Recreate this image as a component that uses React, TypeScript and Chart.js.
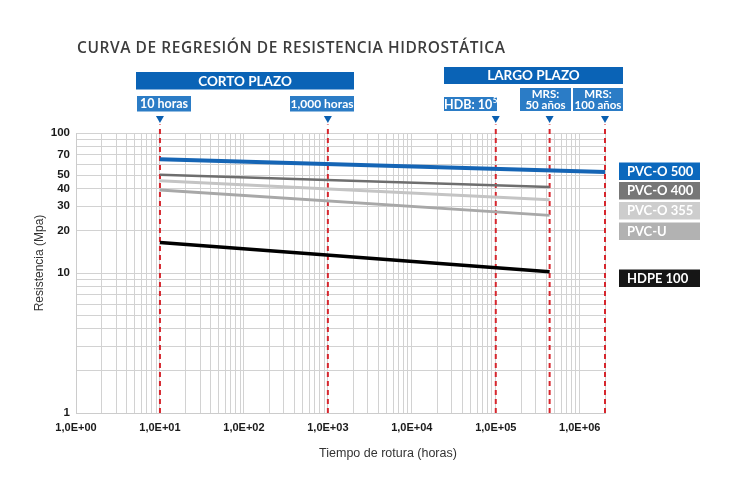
import React, { useEffect, useRef } from 'react';
import { Chart, registerables } from 'chart.js';
Chart.register(...registerables);

// ---- data ----
const seriesNames = ['PVC-O 500', 'PVC-O 400', 'PVC-O 355', 'PVC-U', 'HDPE 100'];
const startHours = [10, 10, 10, 10, 10];
const endHours = [2000000, 438000, 438000, 438000, 438000];
const startMPa = [65, 50.4, 45.6, 39.2, 16.5];
const endMPa = [52.7, 41.1, 33.4, 25.8, 10.2];
const seriesColors = ['#1565b5', '#6e6e6e', '#c4c4c4', '#a8a8a8', '#000000'];
const seriesWidths = [4, 2.5, 3, 3, 3.5];
const legendColors = ['#0b68bd', '#777777', '#cdcdcd', '#b2b2b2', '#161616'];

const markerHours = [10, 1000, 100000, 438000, 2000000];
const markerTopMPa = 115;
const yLabelValues = [1, 10, 20, 30, 40, 50, 70, 100];
const xMin = 1;
const xMax = 2000000;
const yMin = 1;
const yMax = 100;

const TITLE = 'CURVA DE REGRESIÓN DE RESISTENCIA HIDROSTÁTICA';
const X_TITLE = 'Tiempo de rotura (horas)';
const Y_TITLE = 'Resistencia (Mpa)';

function minorTicks(min: number, max: number) {
  const out: { value: number }[] = [];
  for (let e = Math.round(Math.log10(min)); Math.pow(10, e) <= max; e++) {
    for (let m = 1; m <= 9; m++) {
      const v = m * Math.pow(10, e);
      if (v >= min - 1e-9 && v <= max * (1 + 1e-9)) out.push({ value: v });
    }
  }
  return out;
}

function isPow10(v: number) {
  const l = Math.log10(v);
  return Math.abs(l - Math.round(l)) < 1e-9;
}

const BOX_FONT = 'Lato, "Open Sans", sans-serif';

function drawSpaced(ctx: CanvasRenderingContext2D, text: string, x: number, y: number, target: number) {
  const chars = Array.from(text);
  const widths = chars.map((c) => ctx.measureText(c).width);
  const total = widths.reduce((a, b) => a + b, 0);
  const gap = (target - total) / (chars.length - 1);
  let cx = x;
  chars.forEach((c, i) => {
    ctx.fillText(c, cx, y);
    cx += widths[i] + gap;
  });
}

const overlayPlugin = {
  id: 'overlay',
  afterDraw(chart: any) {
    const ctx: CanvasRenderingContext2D = chart.ctx;
    const xs = chart.scales.x;
    ctx.save();

    // Title
    ctx.fillStyle = '#3d3d3d';
    ctx.font = `600 15.5px "Open Sans", sans-serif`;
    ctx.textAlign = 'left';
    ctx.textBaseline = 'alphabetic';
    drawSpaced(ctx, TITLE, 77, 53, 428);

    const box = (x: number, y: number, w: number, h: number, color: string) => {
      ctx.fillStyle = color;
      ctx.fillRect(x, y, w, h);
    };
    const text = (t: string, x: number, y: number, size: number, align: CanvasTextAlign = 'center') => {
      ctx.fillStyle = '#ffffff';
      ctx.font = `bold ${size}px ${BOX_FONT}`;
      ctx.textAlign = align;
      ctx.textBaseline = 'middle';
      ctx.fillText(t, x, y);
    };

    const big = '#0a63b6';
    const small = '#2b7cc6';
    box(136, 72, 218, 17.5, big);
    text('CORTO PLAZO', 245, 81.5, 13.5);
    box(444, 67, 179, 17, big);
    text('LARGO PLAZO', 533.5, 76, 13.5);

    box(137, 96, 54, 15.5, small);
    text('10 horas', 164, 104, 12.5);
    box(290, 96, 64, 15.5, small);
    text('1,000 horas', 322, 104, 12);

    box(444, 97, 53, 14, small);
    // HDB: 10^5
    ctx.font = `bold 12.5px ${BOX_FONT}`;
    const main = 'HDB: 10';
    const mw = ctx.measureText(main).width;
    ctx.font = `bold 8px ${BOX_FONT}`;
    const sw = ctx.measureText('5').width;
    const sx = 470.5 - (mw + sw) / 2;
    text(main, sx, 104.5, 12.5, 'left');
    text('5', sx + mw + 0.5, 100.5, 8, 'left');

    box(520, 88, 51, 23, small);
    text('MRS:', 545.5, 94.5, 11.5);
    text('50 años', 545.5, 105, 11.5);
    box(573, 88, 50, 23, small);
    text('MRS:', 598, 94.5, 11.5);
    text('100 años', 598, 105, 11.5);

    // triangles
    ctx.fillStyle = '#0a5fb0';
    markerHours.forEach((h) => {
      const px = xs.getPixelForValue(h);
      ctx.beginPath();
      ctx.moveTo(px - 4, 116);
      ctx.lineTo(px + 4, 116);
      ctx.lineTo(px, 123);
      ctx.closePath();
      ctx.fill();
    });

    // legend boxes
    const legendY = [162.5, 182, 202, 222.5, 269.5];
    seriesNames.forEach((n, i) => {
      box(619, legendY[i], 81, 17.5, legendColors[i]);
      text(n, 627, legendY[i] + 9, 13, 'left');
    });

    // axis titles
    ctx.fillStyle = '#333333';
    ctx.font = `12.5px "Liberation Sans", Arial, sans-serif`;
    ctx.textAlign = 'center';
    ctx.textBaseline = 'middle';
    ctx.fillText(X_TITLE, 388, 454);
    ctx.save();
    ctx.translate(40, 263);
    ctx.rotate(-Math.PI / 2);
    ctx.font = `12px "Liberation Sans", Arial, sans-serif`;
    ctx.fillText(Y_TITLE, 0, 0);
    ctx.restore();

    ctx.restore();
  },
};

export default function App() {
  const ref = useRef<HTMLCanvasElement | null>(null);
  useEffect(() => {
    if (!ref.current) return;
    const markerSets = markerHours.map((h) => ({
      label: 'm' + h,
      data: [
        { x: h, y: yMin },
        { x: h, y: markerTopMPa },
      ],
      borderColor: '#d6262d',
      borderWidth: 2,
      borderDash: [5, 4],
      pointRadius: 0,
      fill: false,
      clip: false as any,
      order: 10,
    }));
    const seriesSets = seriesNames.map((n, i) => ({
      label: n,
      data: [
        { x: startHours[i], y: startMPa[i] },
        { x: endHours[i], y: endMPa[i] },
      ],
      borderColor: seriesColors[i],
      borderWidth: seriesWidths[i],
      pointRadius: 0,
      fill: false,
      clip: false as any,
      order: 1,
    }));
    const chart = new Chart(ref.current, {
      type: 'line',
      data: { datasets: [...seriesSets, ...markerSets] as any },
      plugins: [overlayPlugin],
      options: {
        animation: false,
        responsive: false,
        maintainAspectRatio: false,
        layout: { padding: { left: 0, top: 133, right: 140, bottom: 10 } },
        plugins: { legend: { display: false }, tooltip: { enabled: false } },
        scales: {
          x: {
            type: 'logarithmic',
            min: xMin,
            max: xMax,
            afterBuildTicks: (s: any) => {
              s.ticks = minorTicks(xMin, xMax);
            },
            afterFit: (s: any) => {
              s.height = 60;
            },
            grid: { color: '#d2d2d2', lineWidth: 1, drawTicks: false },
            border: { color: '#cccccc' },
            ticks: {
              autoSkip: false,
              maxRotation: 0,
              padding: 8,
              color: '#1a1a1a',
              font: { family: '"Liberation Sans", Arial, sans-serif', size: 11, weight: 'bold' },
              callback: (v: any) => {
                const n = Number(v);
                if (!isPow10(n)) return '';
                const e = Math.round(Math.log10(n));
                return '1,0E+' + String(e).padStart(2, '0');
              },
            },
          },
          y: {
            type: 'logarithmic',
            min: yMin,
            max: yMax,
            afterBuildTicks: (s: any) => {
              s.ticks = minorTicks(yMin, yMax);
            },
            afterFit: (s: any) => {
              s.width = 76;
            },
            grid: { color: '#d2d2d2', lineWidth: 1, drawTicks: false },
            border: { color: '#cccccc' },
            ticks: {
              autoSkip: false,
              padding: 6,
              color: '#1a1a1a',
              font: { family: '"Liberation Sans", Arial, sans-serif', size: 11.5, weight: 'bold' },
              callback: (v: any) => {
                const n = Number(v);
                return yLabelValues.some((q) => Math.abs(q - n) < 1e-9) ? String(n) : '';
              },
            },
          },
        },
      } as any,
    });
    return () => chart.destroy();
  }, []);
  return (
    <div style={{ position: 'absolute', left: 0, top: 0, width: 745, height: 483, background: '#fff' }}>
      <canvas ref={ref} width={745} height={483} style={{ display: 'block' }} />
    </div>
  );
}
